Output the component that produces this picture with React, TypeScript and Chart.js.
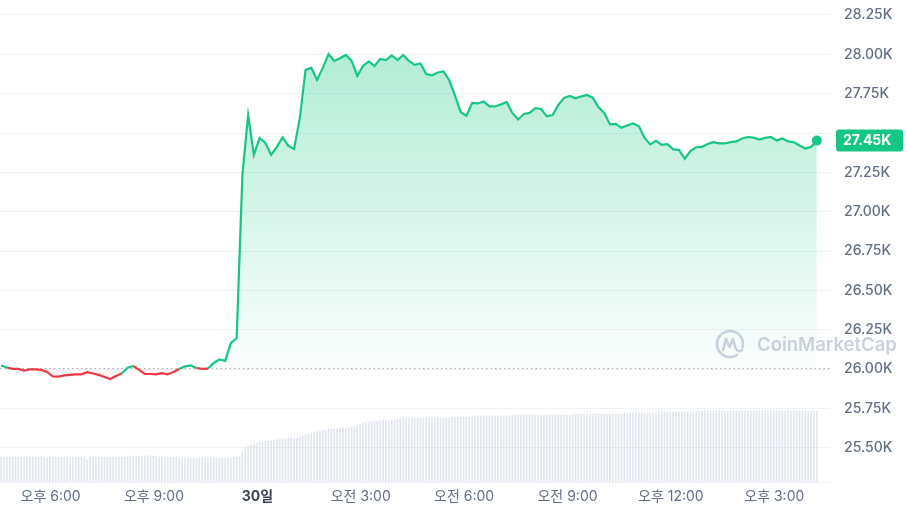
import React, { useEffect, useRef } from 'react';
import Chart from 'chart.js/auto';

// ---- data (times in minutes relative to 18:00 of the first day) ----
const BASELINE = 26006; // opening price of the 24h window
const PRICE_START_MIN = -86;
const PRICE_STEP_MIN = 10;
const PRICE = [
  26024, 26011, 26002, 26002, 25992, 25999, 25999, 25996, 25983, 25954,
  25953, 25961, 25964, 25967, 25968, 25981, 25973, 25964, 25951, 25938,
  25957, 25973, 26010, 26021, 25996, 25970, 25970, 25968, 25975, 25967,
  25983, 26002, 26018, 26024, 26008, 26003, 26004, 26040, 26062, 26053,
  26167, 26197, 27234, 27615, 27361, 27469, 27437, 27361, 27412, 27473,
  27418, 27399, 27596, 27901, 27914, 27837, 27914, 28002, 27958, 27975,
  27996, 27960, 27863, 27926, 27955, 27926, 27971, 27964, 27993, 27964,
  27996, 27958, 27933, 27942, 27875, 27866, 27885, 27891, 27837, 27739,
  27634, 27609, 27691, 27688, 27701, 27669, 27669, 27682, 27698, 27628,
  27586, 27621, 27628, 27658, 27653, 27606, 27615, 27679, 27723, 27736,
  27721, 27733, 27742, 27725, 27663, 27628, 27555, 27558, 27533, 27548,
  27561, 27545, 27471, 27428, 27450, 27425, 27429, 27396, 27393, 27336,
  27386, 27410, 27412, 27431, 27442, 27435, 27434, 27442, 27447, 27466,
  27475, 27471, 27459, 27469, 27475, 27453, 27466, 27447, 27442, 27421,
  27402, 27412, 27452,
];

const VOLUME_START_MIN = -86;
const VOLUME_STEP_MIN = 5;
// 24h volume (billions USD)
const VOLUME = [
  10.0, 10.0, 10.0, 10.0, 10.0, 10.0, 10.0, 10.0, 10.0, 10.0,
  10.0, 10.0, 10.0, 10.0, 10.4, 10.0, 10.0, 10.0, 10.0, 10.0,
  10.0, 10.0, 10.0, 10.0, 10.0, 10.0, 10.0, 10.0, 10.0, 10.0,
  8.8, 10.0, 10.0, 10.0, 10.0, 10.0, 10.0, 10.0, 10.0, 10.0,
  10.0, 10.0, 10.0, 10.0, 10.0, 10.4, 10.4, 10.4, 10.4, 10.4,
  10.4, 10.4, 10.4, 10.4, 10.4, 10.0, 10.0, 10.0, 10.0, 10.0,
  10.0, 10.0, 9.6, 9.6, 9.6, 9.6, 9.6, 9.6, 9.6, 9.6,
  9.6, 9.6, 9.6, 9.6, 9.6, 9.6, 9.6, 9.6, 9.6, 9.6,
  9.6, 10.0, 10.0, 10.0, 12.0, 13.6, 14.4, 14.8, 15.2, 15.6,
  16.0, 16.0, 16.4, 16.4, 16.8, 16.8, 16.8, 17.2, 17.2, 17.2,
  17.6, 17.6, 17.6, 17.6, 18.0, 18.4, 18.8, 19.2, 19.6, 20.0,
  20.4, 20.4, 20.8, 20.8, 21.2, 21.2, 21.2, 21.2, 21.6, 21.6,
  21.6, 21.6, 22.0, 22.0, 22.4, 22.8, 23.6, 24.0, 24.0, 24.4,
  24.4, 24.4, 24.4, 24.8, 24.8, 24.8, 24.8, 24.8, 25.2, 25.2,
  25.6, 25.6, 25.6, 25.6, 25.6, 25.6, 25.6, 25.6, 25.6, 25.6,
  25.6, 25.6, 25.6, 25.6, 25.6, 25.6, 25.6, 26.0, 26.0, 26.0,
  26.0, 26.0, 26.0, 26.0, 26.0, 26.4, 26.4, 26.4, 26.4, 26.4,
  26.4, 26.4, 26.4, 26.4, 26.4, 26.4, 26.4, 26.4, 26.8, 26.8,
  26.8, 26.8, 26.8, 26.8, 26.8, 26.8, 26.8, 26.8, 26.8, 26.8,
  26.8, 26.8, 26.8, 26.8, 26.8, 26.8, 26.8, 26.8, 26.8, 26.8,
  27.2, 27.2, 27.2, 27.2, 27.2, 27.2, 27.2, 27.2, 27.2, 27.2,
  27.2, 27.2, 27.2, 27.2, 27.2, 27.2, 27.2, 27.6, 27.6, 27.6,
  27.6, 27.6, 27.6, 27.6, 27.6, 27.6, 27.6, 27.6, 27.6, 28.0,
  28.0, 28.0, 28.0, 28.0, 28.0, 28.0, 28.0, 28.0, 28.0, 28.0,
  28.0, 28.0, 28.0, 28.4, 28.4, 28.4, 28.4, 28.4, 28.4, 28.4,
  28.4, 28.4, 28.4, 28.4, 28.4, 28.4, 28.4, 28.4, 28.4, 28.4,
  28.4, 28.4, 28.4, 28.4, 28.4, 28.4, 28.4, 28.4, 28.4, 28.4,
  28.4, 28.4, 28.4, 28.4, 28.4, 28.4, 28.4, 28.4, 28.4, 28.4,
  28.4, 28.4, 28.4, 28.4, 28.4,
];

const X_TICKS = [0, 180, 360, 540, 720, 900, 1080, 1260];
const X_LABELS = ['오후 6:00', '오후 9:00', '30일', '오전 3:00', '오전 6:00', '오전 9:00', '오후 12:00', '오후 3:00'];
const Y_TICKS = [25500, 25750, 26000, 26250, 26500, 26750, 27000, 27250, 27500, 27750, 28000, 28250];

const X_MIN = -88;
const X_MAX = 1357;
const Y_MIN = 25284;
const Y_MAX = 28345;
const VOL_MAX = 192.8;

const GREEN = '#16c784';
const RED = '#ea3943';
const FONT = "Inter, 'Noto Sans CJK KR', sans-serif";

const fmtK = (v: number) => (v / 1000).toFixed(2) + 'K';

const overlayPlugin = {
  id: 'cmcOverlay',
  beforeDatasetsDraw(chart: any) {
    const { ctx, chartArea, scales } = chart;
    const y = Math.round(scales.y.getPixelForValue(BASELINE)) + 0.5;
    ctx.save();
    ctx.strokeStyle = '#a7b1c2';
    ctx.lineWidth = 1;
    ctx.setLineDash([1.5, 3]);
    ctx.beginPath();
    ctx.moveTo(chartArea.left, y);
    ctx.lineTo(chartArea.right, y);
    ctx.stroke();
    ctx.restore();
  },
  afterDraw(chart: any) {
    const { ctx, chartArea, scales } = chart;
    // watermark
    ctx.save();
    const wm = 'rgba(160,171,191,0.55)';
    const cx = chartArea.right - 100;
    const cy = 344;
    ctx.strokeStyle = wm;
    ctx.lineWidth = 2.6;
    ctx.lineCap = 'round';
    ctx.lineJoin = 'round';
    ctx.beginPath();
    ctx.arc(cx, cy, 13, 0.32 * Math.PI, 2.08 * Math.PI);
    ctx.stroke();
    ctx.beginPath();
    ctx.moveTo(cx - 7, cy + 6);
    ctx.lineTo(cx - 4, cy - 5);
    ctx.lineTo(cx - 0.5, cy + 3);
    ctx.lineTo(cx + 3, cy - 5);
    ctx.lineTo(cx + 5.5, cy + 4);
    ctx.quadraticCurveTo(cx + 8, cy + 9, cx + 12, cy + 6);
    ctx.stroke();
    ctx.fillStyle = wm;
    let size = 19;
    ctx.font = `600 ${size}px ${FONT}`;
    const w = ctx.measureText('CoinMarketCap').width;
    size = size * 140 / w;
    ctx.font = `600 ${size}px ${FONT}`;
    ctx.textBaseline = 'middle';
    ctx.textAlign = 'left';
    ctx.fillText('CoinMarketCap', cx + 27, cy + 1);
    ctx.restore();

    // price tag
    const last = PRICE[PRICE.length - 1];
    const py = scales.y.getPixelForValue(last);
    ctx.save();
    ctx.fillStyle = GREEN;
    const x0 = chartArea.right + 6;
    ctx.beginPath();
    if ((ctx as any).roundRect) (ctx as any).roundRect(x0, py - 11, 67, 22, 3);
    else ctx.rect(x0, py - 11, 67, 22);
    ctx.fill();
    ctx.fillStyle = '#ffffff';
    ctx.font = `700 14px ${FONT}`;
    ctx.textBaseline = 'middle';
    ctx.textAlign = 'left';
    ctx.fillText(fmtK(last), chartArea.right + 13, py + 0.5);
    ctx.restore();
  },
};

export default function App() {
  const ref = useRef<HTMLCanvasElement | null>(null);

  useEffect(() => {
    if (!ref.current) return;
    const priceData = PRICE.map((p, i) => ({ x: PRICE_START_MIN + i * PRICE_STEP_MIN, y: p }));
    const volData = VOLUME.map((v, j) => ({ x: VOLUME_START_MIN + j * VOLUME_STEP_MIN, y: v }));
    const lastPrice = PRICE[PRICE.length - 1];

    const chart = new Chart(ref.current, {
      type: 'line',
      data: {
        datasets: [
          {
            type: 'line',
            label: 'Price',
            data: priceData,
            yAxisID: 'y',
            order: 0,
            borderWidth: 2.2,
            borderColor: GREEN,
            tension: 0,
            segment: {
              borderColor: (c: any) => (c.p1.parsed.y < BASELINE ? RED : GREEN),
            },
            pointRadius: (c: any) => (c.dataIndex === PRICE.length - 1 ? 5 : 0),
            pointHoverRadius: 0,
            pointBackgroundColor: GREEN,
            pointBorderWidth: 0,
            fill: { value: BASELINE },
            backgroundColor: (c: any) => {
              const ch = c.chart;
              const area = ch.chartArea;
              if (!area) return 'rgba(22,199,132,0.15)';
              const yb = ch.scales.y.getPixelForValue(BASELINE);
              const g = ch.ctx.createLinearGradient(0, area.top, 0, area.bottom);
              const s = Math.max(0, Math.min(1, (yb - area.top) / (area.bottom - area.top)));
              g.addColorStop(0, 'rgba(22,199,132,0.38)');
              g.addColorStop(s, 'rgba(22,199,132,0.02)');
              g.addColorStop(s, 'rgba(234,57,67,0.03)');
              g.addColorStop(Math.min(1, s + 0.04), 'rgba(234,57,67,0.12)');
              g.addColorStop(1, 'rgba(234,57,67,0.12)');
              return g;
            },
          } as any,
          {
            type: 'bar',
            label: 'Volume',
            data: volData,
            yAxisID: 'vol',
            order: 1,
            backgroundColor: 'rgba(196,204,220,0.5)',
            borderWidth: 0,
            barThickness: 1,
          } as any,
        ],
      },
      options: {
        animation: false,
        responsive: true,
        maintainAspectRatio: false,
        layout: { padding: 0, autoPadding: false },
        plugins: {
          legend: { display: false },
          tooltip: { enabled: false },
        },
        events: [],
        scales: {
          x: {
            type: 'linear',
            min: X_MIN,
            max: X_MAX,
            offset: false,
            grid: { display: false, drawTicks: false },
            border: { display: true, color: '#eef1f5' },
            afterBuildTicks: (s: any) => {
              s.ticks = X_TICKS.map((v) => ({ value: v }));
            },
            afterFit: (s: any) => {
              s.height = 32;
              s.paddingLeft = 0;
              s.paddingRight = 0;
            },
            ticks: {
              autoSkip: false,
              maxRotation: 0,
              padding: 6,
              callback: (v: any) => {
                const k = X_TICKS.indexOf(Number(v));
                return k >= 0 ? X_LABELS[k] : '';
              },
              font: (c: any) => {
                const k = X_TICKS.indexOf(c.tick ? c.tick.value : -1);
                const lbl = k >= 0 ? X_LABELS[k] : '';
                return { family: FONT, size: 14, weight: lbl.indexOf(':') < 0 ? 'bold' : 'normal' };
              },
              color: (c: any) => {
                const k = X_TICKS.indexOf(c.tick ? c.tick.value : -1);
                const lbl = k >= 0 ? X_LABELS[k] : '';
                return lbl.indexOf(':') < 0 ? '#3b4354' : '#616e85';
              },
            },
          },
          y: {
            type: 'linear',
            position: 'right',
            min: Y_MIN,
            max: Y_MAX,
            grid: { color: '#eff2f5', drawTicks: false },
            border: { display: false },
            afterBuildTicks: (s: any) => {
              s.ticks = Y_TICKS.map((v) => ({ value: v }));
            },
            afterFit: (s: any) => {
              s.width = 77;
              s.paddingTop = 0;
              s.paddingBottom = 0;
            },
            ticks: {
              padding: 14,
              color: '#616e85',
              font: { family: FONT, size: 14, weight: '500' },
              callback: (v: any) => (Math.abs(Number(v) - lastPrice) < 120 ? '' : fmtK(Number(v))),
            },
          },
          vol: {
            type: 'linear',
            display: false,
            min: 0,
            max: VOL_MAX,
          },
        },
      } as any,
      plugins: [overlayPlugin],
    });
    return () => chart.destroy();
  }, []);

  return (
    <div style={{ position: 'fixed', left: 0, top: 0, width: 907, height: 514, background: '#ffffff' }}>
      <canvas ref={ref} />
    </div>
  );
}
